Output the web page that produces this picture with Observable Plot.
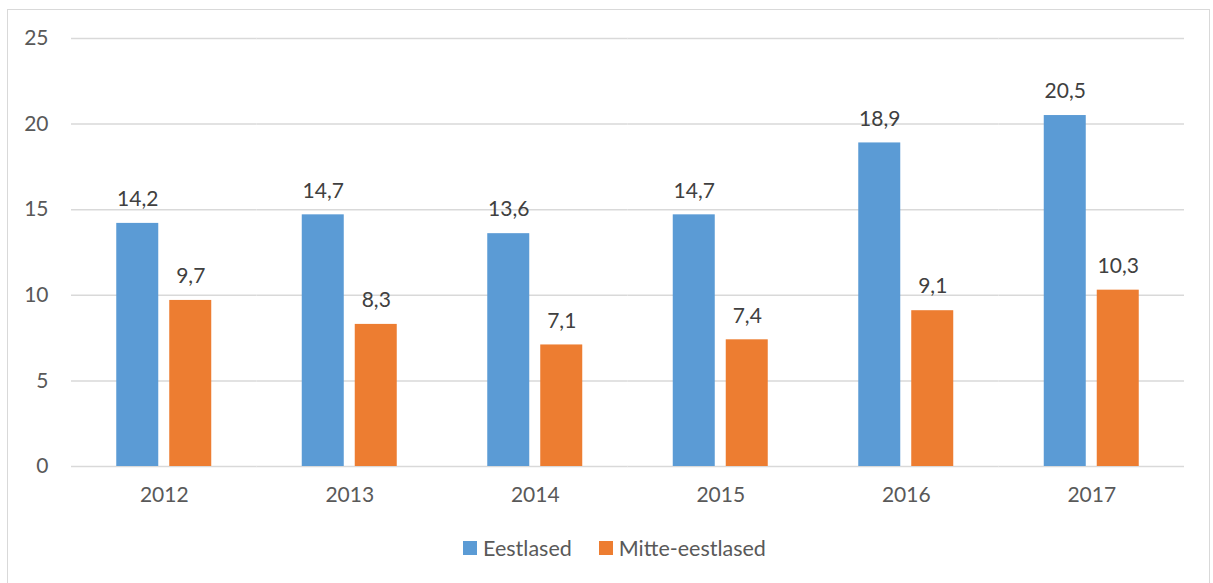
<!DOCTYPE html>
<html>
<head>
<meta charset="utf-8">
<script src="https://cdn.jsdelivr.net/npm/d3@7"></script>
<script src="https://cdn.jsdelivr.net/npm/@observablehq/plot@0.6"></script>
<style>
  html, body { margin: 0; padding: 0; background: #fff; }
  #wrap { position: relative; width: 1213px; height: 583px; overflow: hidden; font-family: Lato, "Open Sans", sans-serif; }
  #frame { position: absolute; left: 7px; top: 9px; width: 1203px; height: 600px; border: 1.5px solid #d9d9d9; box-sizing: border-box; }
  #chart { position: absolute; left: 0; top: 0; }
  #legend { position: absolute; left: 0; top: 535px; width: 1213px; display: flex; justify-content: center; gap: 27px; font-size: 21.5px; color: #595959; padding-left: 16px; box-sizing: border-box; }
  #legend span.item { display: inline-flex; align-items: center; }
  #legend span.sw { display: inline-block; width: 14px; height: 14px; margin-right: 6px; }
</style>
</head>
<body>
<div id="wrap">
  <div id="frame"></div>
  <div id="chart"></div>
  <div id="legend"></div>
</div>
<script>
const years = ["2012", "2013", "2014", "2015", "2016", "2017"];
const seriesNames = ["Eestlased", "Mitte-eestlased"];
const eestlased = [14.2, 14.7, 13.6, 14.7, 18.9, 20.5];
const mitteEestlased = [9.7, 8.3, 7.1, 7.4, 9.1, 10.3];
const colors = ["#5B9BD5", "#ED7D31"];
const yTicks = [0, 5, 10, 15, 20, 25];

const data = [];
years.forEach((yr, i) => {
  data.push({year: yr, series: seriesNames[0], value: eestlased[i]});
  data.push({year: yr, series: seriesNames[1], value: mitteEestlased[i]});
});
const fmt = v => v.toFixed(1).replace(".", ",");

const chart = Plot.plot({
  width: 1213,
  height: 516,
  marginLeft: 71,
  marginRight: 29,
  marginTop: 38,
  marginBottom: 50,
  style: {fontFamily: "Lato, 'Open Sans', sans-serif", fontSize: "21px", color: "#595959", background: "transparent"},
  fx: {domain: years, padding: 0, label: null, round: false},
  x: {domain: seriesNames, paddingInner: 0.2075, paddingOuter: 0.854, axis: null, round: false},
  y: {domain: [0, 25], label: null},
  color: {domain: seriesNames, range: colors},
  marks: [
    Plot.gridY(yTicks, {stroke: "#d9d9d9", strokeOpacity: 1, strokeWidth: 1.5}),
    Plot.axisY(yTicks, {tickSize: 0, tickPadding: 23, label: null}),
    Plot.axisFx({anchor: "bottom", tickSize: 0, tickPadding: 21, label: null}),
    Plot.barY(data, {fx: "year", x: "series", y: "value", fill: "series"}),
    Plot.text(data, {fx: "year", x: "series", y: "value", text: d => fmt(d.value), dy: -24, fill: "#404040", fontSize: 21})
  ]
});
document.getElementById("chart").appendChild(chart);

const legend = document.getElementById("legend");
seriesNames.forEach((name, i) => {
  const item = document.createElement("span");
  item.className = "item";
  const sw = document.createElement("span");
  sw.className = "sw";
  sw.style.background = colors[i];
  item.appendChild(sw);
  item.appendChild(document.createTextNode(name));
  legend.appendChild(item);
});
</script>
</body>
</html>
